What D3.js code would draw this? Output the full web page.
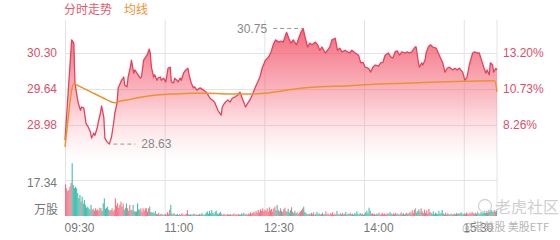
<!DOCTYPE html>
<html><head><meta charset="utf-8">
<script src="https://cdn.jsdelivr.net/npm/d3@7/dist/d3.min.js"></script>
<style>
html,body{margin:0;padding:0;background:#fff;}
svg{display:block;font-family:"Liberation Sans","Noto Sans CJK SC",Arial,sans-serif;}
</style></head>
<body><svg id="c" width="560" height="240"></svg>
<script>
// ---------- data ----------
const prevClose = 26.768;
const priceTicks = [30.30, 29.64, 28.98];
const pctTicks = [13.20, 10.73, 8.26];
const volTicks = [17.34];
const timeTicks = [0, 90, 180, 270, 360];
const timeLabels = ["09:30", "11:00", "12:30", "14:00", "15:30"];
const highPrice = 30.75, highTime = 215;
const lowPrice = 28.63, lowTime = 40;

// minutes since 09:30
const times = [0,3,6,8,9,11,12,14,15,17,19,21,23,24,26,27,29,30,32,33,35,36,38,40,42,44,45,47,48,50,51,53,54,56,57,59,60,62,63,65,66,68,69,71,74,76,77,78,80,81,83,84,86,87,89,91,93,95,96,98,99,101,102,104,105,107,109,111,112,114,116,117,119,122,125,128,131,
 135,138,141,142,144,147,149,151,153,156,158,160,163,165,167,169,172,174,176,178,181,184,186,188,190,193,195,197,200,202,204,206,209,211,213,215,217,219,221,223,226,228,230,232,235,237,239,241,244,246,248,250,253,255,257,
 259,262,265,267,269,271,274,276,278,280,283,285,287,289,292,294,296,298,300,302,304,307,309,311,313,316,317,319,320,322,323,325,326,328,330,332,335,337,339,341,343,345,347,350,352,354,356,359,361,363,365,368,370,372,374,376,378,380,381,383,384,386,387,389,390];
const prices = [28.70,29.62,30.54,30.48,29.75,29.49,29.38,29.25,29.31,29.29,29.01,28.94,28.85,28.74,28.83,28.79,28.92,29.03,29.20,29.33,29.13,28.74,28.67,28.63,28.76,29.03,29.20,29.38,29.66,29.75,29.80,29.86,29.71,29.68,29.86,30.04,30.17,29.93,29.99,29.93,29.90,29.84,29.86,30.17,30.26,30.37,30.30,30.04,29.86,29.90,29.80,29.84,29.86,29.80,29.84,29.77,30.02,30.04,29.77,29.75,29.84,29.80,29.77,29.84,29.80,29.93,29.99,30.02,29.90,29.75,29.66,29.68,29.62,29.66,29.62,29.57,29.47,
 29.40,29.25,29.16,29.31,29.38,29.44,29.40,29.47,29.49,29.53,29.58,29.47,29.31,29.38,29.44,29.53,29.68,29.77,29.86,30.02,30.17,30.23,30.32,30.45,30.54,30.50,30.52,30.50,30.68,30.57,30.48,30.54,30.45,30.57,30.68,30.75,30.57,30.41,30.48,30.45,30.50,30.45,30.35,30.41,30.30,30.35,30.41,30.54,30.57,30.35,30.39,30.32,30.35,30.32,30.30,
 30.35,30.30,30.26,30.12,30.13,30.04,30.02,29.95,30.04,30.08,30.06,30.12,30.13,30.26,30.30,30.23,30.21,30.32,30.34,30.26,30.32,30.30,30.32,30.30,30.32,30.41,30.41,30.13,30.04,30.12,30.08,30.17,30.30,30.41,30.45,30.41,30.39,30.30,30.21,30.12,29.95,30.02,30.04,29.99,30.02,29.99,30.02,29.95,29.80,29.86,30.08,30.30,30.32,30.30,30.30,30.17,30.04,29.93,29.99,29.90,30.12,30.08,29.95,30.02,29.99];

const avgTimes = [0,3,6,8,11,20,29,35,41,45,50,59,71,83,101,116,128,152,170,180,197,215,230,257,270,313,360,388,390];
const avgPrices = [28.58,29.13,29.62,29.74,29.71,29.62,29.53,29.47,29.41,29.39,29.42,29.45,29.50,29.53,29.55,29.56,29.56,29.55,29.55,29.56,29.61,29.66,29.68,29.70,29.72,29.75,29.78,29.79,29.59];

// volume per minute (万股)
const volumes = [
15.3,13.3,12.0,12.5,14.1,16.0,25.4,14.9,13.5,14.1,
13.3,11.0,8.5,10.1,7.0,9.3,6.0,7.7,5.3,4.0,
4.5,3.7,3.0,5.3,3.0,3.5,2.5,3.7,2.8,3.2,
2.5,4.0,3.7,2.4,6.1,8.5,3.5,4.0,4.5,3.0,
2.6,2.9,3.7,2.2,3.0,8.5,5.0,6.1,4.0,5.3,
6.9,4.5,6.1,3.0,4.0,6.1,3.7,2.5,5.3,3.0,
2.8,5.3,2.4,2.1,2.2,6.1,3.2,2.8,3.7,2.0,
3.7,2.5,3.7,3.7,2.1,3.7,4.5,2.0,1.6,1.8,
1.2,2.4,1.0,0.8,1.5,0.6,0.9,1.1,0.5,0.7,
1.0,0.6,1.8,0.9,3.0,5.3,1.2,0.8,1.4,0.6,
0.7,1.0,0.5,0.9,0.6,1.3,0.8,0.5,0.7,1.1,
2.9,0.8,0.6,1.0,0.5,0.9,1.2,0.6,0.8,0.5,
0.7,1.0,0.6,1.4,0.8,0.5,0.9,1.6,2.2,1.0,
2.5,1.3,2.8,1.5,0.9,2.0,2.6,1.2,0.8,1.5,
2.0,0.9,0.6,1.1,0.7,0.5,1.0,0.8,0.6,0.9,
0.5,0.8,1.2,0.6,0.9,0.5,1.0,0.7,0.6,1.3,
0.8,1.5,0.7,1.0,0.6,1.2,0.9,1.8,1.1,1.4,
2.0,1.3,2.4,1.6,2.9,1.8,3.2,2.5,3.7,2.2,
3.0,2.4,3.7,2.0,4.2,2.8,3.4,2.1,3.7,4.5,
2.6,5.3,3.0,2.2,3.7,2.5,1.8,3.2,4.0,2.4,
2.0,3.5,1.6,2.8,4.2,2.0,1.5,2.5,1.2,1.8,
1.0,1.6,2.2,2.8,3.6,4.5,2.0,1.4,1.0,0.8,
1.2,0.7,1.5,0.9,1.8,0.6,1.1,2.0,0.8,1.3,
0.7,1.0,1.6,0.6,0.9,2.2,0.8,1.2,0.5,1.4,
0.9,1.8,0.6,1.1,0.7,2.4,1.0,0.6,1.3,0.8,
1.5,0.7,1.0,2.0,0.6,1.2,0.9,1.6,0.8,1.1,
0.6,1.3,0.9,2.2,1.0,0.7,1.5,0.8,1.2,0.6,
1.0,1.8,2.5,1.2,4.0,2.6,1.0,1.4,0.8,1.1,
0.7,1.2,0.9,1.6,0.6,1.0,1.4,0.8,1.2,0.7,
1.0,1.5,0.8,2.0,1.1,0.7,1.3,0.9,1.6,0.8,
1.2,0.6,1.0,1.8,0.9,1.4,0.7,1.1,1.6,1.0,
1.3,2.0,1.2,2.8,1.5,3.0,3.7,1.6,2.4,3.2,
1.8,3.7,2.2,1.4,3.0,1.6,2.6,1.2,3.4,2.0,
1.5,1.0,2.2,0.8,1.6,1.2,0.9,2.5,1.0,1.4,
2.9,1.2,0.8,1.6,0.7,1.3,1.0,0.6,1.1,0.9,
0.7,1.2,0.8,1.5,0.9,1.4,1.0,1.8,1.2,0.8,
1.3,0.9,1.7,1.1,0.8,1.5,1.2,2.0,1.4,1.0,
1.6,1.1,2.2,1.4,0.9,1.8,1.3,2.0,2.6,1.5,
2.4,1.8,2.9,2.2,3.0,2.5,1.9,2.8,2.2,2.6];

// ---------- layout ----------
const L = 65, R = 497, T = 20, PB = 161, VB = 216;
const svg = d3.select("#c");
const x = d3.scaleLinear().domain([0, 390]).range([L, R]);
const y = d3.scaleLinear().domain([28.32, 30.96]).range([PB, 17]);
const pct = d3.scaleLinear().domain(y.domain().map(p => (p / prevClose - 1) * 100)).range(y.range());
const vy = d3.scaleLinear().domain([0, 17.34 * 1.5]).range([VB, VB - 54]);

const red = "#e8405a", orange = "#f0922a", gridC = "#e3e3e3", axisRed = "#d9506a", grey = "#777";

// gradient
const defs = svg.append("defs");
const g = defs.append("linearGradient").attr("id", "fillG")
  .attr("gradientUnits", "userSpaceOnUse").attr("x1", 0).attr("x2", 0).attr("y1", 25).attr("y2", PB);
g.append("stop").attr("offset", 0).attr("stop-color", "#f04a60").attr("stop-opacity", 0.85);
g.append("stop").attr("offset", 0.55).attr("stop-color", "#f25a6e").attr("stop-opacity", 0.38);
g.append("stop").attr("offset", 1).attr("stop-color", "#f7a0aa").attr("stop-opacity", 0);

// vertical gridlines + time labels
const xAxis = d3.axisBottom(x).tickValues(timeTicks).tickFormat((d, i) => timeLabels[i])
  .tickSize(-(VB - T)).tickPadding(7);
const gx = svg.append("g").attr("transform", `translate(0,${VB})`).call(xAxis);
gx.select(".domain").remove();
gx.selectAll("line").attr("stroke", gridC);
gx.selectAll("text").attr("text-anchor", "start").attr("x", -1).attr("fill", grey).style("font-size", "12px");
svg.append("line").attr("x1", x(390)).attr("x2", x(390)).attr("y1", T).attr("y2", VB).attr("stroke", gridC);

// horizontal gridlines (price)
const yAxis = d3.axisLeft(y).tickValues(priceTicks).tickFormat(d3.format(".2f")).tickSize(-(R - L)).tickPadding(8);
const gy = svg.append("g").attr("transform", `translate(${L},0)`).call(yAxis);
gy.select(".domain").remove();
gy.selectAll("line").attr("stroke", gridC);
gy.selectAll("text").attr("fill", axisRed).style("font-size", "12px");

const pAxis = d3.axisRight(pct).tickValues(pctTicks).tickFormat(d => d.toFixed(2) + "%").tickSize(0).tickPadding(6);
const gp = svg.append("g").attr("transform", `translate(${R},0)`).call(pAxis);
gp.select(".domain").remove();
gp.selectAll("text").attr("fill", axisRed).style("font-size", "12px");

// volume gridline
const vAxis = d3.axisLeft(vy).tickValues(volTicks).tickFormat(d3.format(".2f")).tickSize(-(R - L)).tickPadding(8);
const gv = svg.append("g").attr("transform", `translate(${L},0)`).call(vAxis);
gv.select(".domain").remove();
gv.selectAll("line").attr("stroke", gridC);
gv.selectAll("text").attr("fill", grey).style("font-size", "12px").attr("dy", "0.5em");
svg.append("text").attr("x", L - 7).attr("y", 214).attr("text-anchor", "end")
  .attr("fill", grey).style("font-size", "12px").text("万股");

// area + line
const pts = times.map((t, i) => [t, prices[i]]);
svg.append("path").datum(pts)
  .attr("d", d3.area().x(d => x(d[0])).y0(PB).y1(d => y(d[1])))
  .attr("fill", "url(#fillG)");
svg.append("path").datum(pts)
  .attr("d", d3.line().x(d => x(d[0])).y(d => y(d[1])))
  .attr("fill", "none").attr("stroke", red).attr("stroke-width", 1.3).attr("stroke-linejoin", "round");

// average line
const apts = avgTimes.map((t, i) => [t, avgPrices[i]]);
svg.append("path").datum(apts)
  .attr("d", d3.line().x(d => x(d[0])).y(d => y(d[1])).curve(d3.curveMonotoneX))
  .attr("fill", "none").attr("stroke", orange).attr("stroke-width", 1.5);

// volume bars coloured by price direction of the traced line
function dirAt(t) {
  const i = Math.max(0, Math.min(times.length - 2, d3.bisectRight(times, t) - 1));
  const d = prices[i + 1] - prices[i];
  return d > 0.001 ? 1 : d < -0.001 ? -1 : 0;
}
const bw = x(1) - x(0);
svg.append("g").selectAll("rect").data(volumes).join("rect")
  .attr("x", (d, i) => x(i)).attr("width", bw)
  .attr("y", d => vy(d)).attr("height", d => VB - vy(d))
  .attr("fill", (d, i) => { const s = dirAt(i + 0.5); return s > 0 ? "#f3667a" : s < 0 ? "#34b8a6" : "#a8a0a6"; })
  .attr("opacity", 0.9);

// high / low markers
const mark = svg.append("g").style("font-size", "12px");
mark.append("line").attr("x1", x(highTime) - 30).attr("x2", x(highTime)).attr("y1", y(highPrice)).attr("y2", y(highPrice))
  .attr("stroke", "#999").attr("stroke-dasharray", "4,3");
mark.append("text").attr("x", x(highTime) - 36).attr("y", y(highPrice)).attr("dy", "0.35em").attr("text-anchor", "end")
  .attr("fill", "#888").text(highPrice.toFixed(2));
mark.append("line").attr("x1", x(lowTime) + 4).attr("x2", x(lowTime) + 26).attr("y1", y(lowPrice)).attr("y2", y(lowPrice))
  .attr("stroke", "#999").attr("stroke-dasharray", "4,3");
mark.append("text").attr("x", x(lowTime) + 32).attr("y", y(lowPrice)).attr("dy", "0.35em")
  .attr("fill", "#888").text(lowPrice.toFixed(2));

// legend title
svg.append("text").attr("x", 64).attr("y", 14).attr("fill", "#e05a70").style("font-size", "12px").text("分时走势");
svg.append("text").attr("x", 124).attr("y", 14).attr("fill", orange).style("font-size", "12px").text("均线");

// watermark
svg.append("circle").attr("cx", 485).attr("cy", 206).attr("r", 6.5).attr("fill", "none").attr("stroke", "#d4d4d4").attr("stroke-width", 1.3);
svg.append("text").attr("x", 495).attr("y", 213).attr("fill", "#cfcfcf").style("font-size", "16px").style("font-family", "Noto Sans CJK SC").text("老虎社区");
svg.append("text").attr("x", 462).attr("y", 231).attr("fill", "#b5b5b5").style("font-size", "11px").style("font-family", "Noto Sans CJK SC").text("@港美股 美股ETF");
</script>
</body></html>
